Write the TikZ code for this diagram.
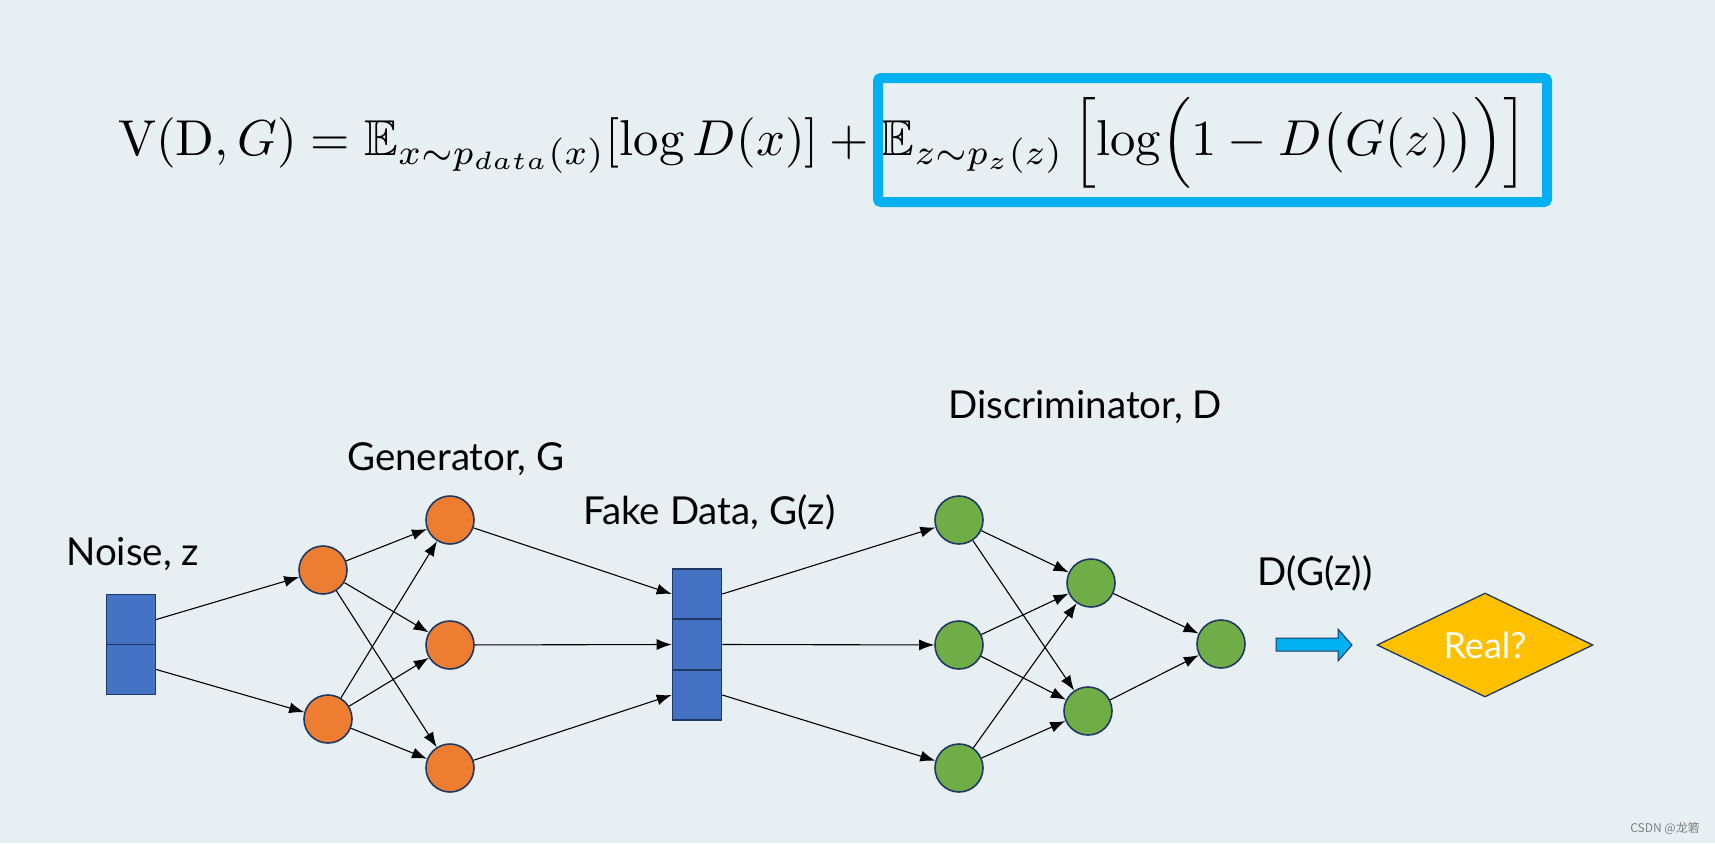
\documentclass[tikz,border=0pt]{standalone}
\usepackage{fontspec}
\usepackage{amsmath,amssymb}
\usetikzlibrary{arrows.meta,shapes.geometric}
\newfontfamily\labfont{Lato}
\newfontfamily\cjkfont{Noto Sans CJK SC}
\definecolor{bg}{RGB}{232,239,243}
\definecolor{navy}{RGB}{31,56,100}
\definecolor{orangeC}{RGB}{237,125,49}
\definecolor{greenC}{RGB}{112,173,71}
\definecolor{blueC}{RGB}{68,114,196}
\definecolor{cyanC}{RGB}{0,176,240}
\definecolor{goldC}{RGB}{255,192,0}
\begin{document}
\begin{tikzpicture}[x=1pt,y=-1pt,
  neuron/.style={circle, draw=navy, line width=1.6pt, minimum size=48pt, inner sep=0pt},
  gen/.style={neuron, fill=orangeC},
  dis/.style={neuron, fill=greenC},
  cell/.style={rectangle, draw=navy, fill=blueC, line width=1.6pt, minimum width=49pt, minimum height=50pt, inner sep=0pt},
  conn/.style={-{Latex[length=15pt,width=11pt]}, line width=1.1pt, black},
  lab/.style={font=\labfont\fontsize{38.5}{42}\selectfont, anchor=base west, inner sep=0pt, text=black}]
\fill[bg] (0,0) rectangle (1715,843);
\useasboundingbox (0,0) rectangle (1715,843);

% formula
\node[inner sep=0pt, anchor=base west] (formula) at (118,155)
 {\resizebox{1409pt}{58pt}{$\mathrm{V}(\mathrm{D},G)=\mathbb{E}_{x\sim p_{data}(x)}[\log D(x)]+\mathbb{E}_{z\sim p_z(z)}\,\Bigl[\log\Bigl(1-D\bigl(G(z)\bigr)\Bigr)\Bigr]$}};
\draw[cyanC, line width=10pt, rounded corners=3pt] (878,78) rectangle (1547,202);

% labels
\node[lab] (lnoise) at (66,565) {Noise, z};
\node[lab] (lgen) at (347,470) {Generator, G};
\node[lab] (lfake) at (583,524) {Fake Data, G(z)};
\node[lab] (ldis) at (948,418) {Discriminator, D};
\node[lab] (ldgz) at (1257,585) {D(G(z))};

% noise cells
\node[cell] (n1) at (131,619.5) {};
\node[cell] (n2) at (131,669.5) {};
% generator neurons
\node[gen] (g1) at (323,570) {};
\node[gen] (g2) at (328,719) {};
\node[gen] (h1) at (450,520) {};
\node[gen] (h2) at (450,645) {};
\node[gen] (h3) at (450,768) {};
% fake data cells
\node[cell] (f1) at (697,594) {};
\node[cell] (f2) at (697,644.5) {};
\node[cell] (f3) at (697,695) {};
% discriminator neurons
\node[dis] (d1) at (959,520) {};
\node[dis] (d2) at (959,645) {};
\node[dis] (d3) at (959,768) {};
\node[dis] (e1) at (1091,583) {};
\node[dis] (e2) at (1088,711) {};
\node[dis] (o) at (1221,644) {};

% connectors
\draw[conn] (n1.east) -- (g1);
\draw[conn] (n2.east) -- (g2);
\foreach \a in {g1,g2}{\foreach \b in {h1,h2,h3}{\draw[conn] (\a) -- (\b);}}
\draw[conn] (h1) -- (f1.west);
\draw[conn] (h2) -- (f2.west);
\draw[conn] (h3) -- (f3.west);
\draw[conn] (f1.east) -- (d1);
\draw[conn] (f2.east) -- (d2);
\draw[conn] (f3.east) -- (d3);
\foreach \a in {d1,d2,d3}{\foreach \b in {e1,e2}{\draw[conn] (\a) -- (\b);}}
\draw[conn] (e1) -- (o);
\draw[conn] (e2) -- (o);

% block arrow
\draw[fill=cyanC, draw=navy, line width=1pt] (1276,638) -- (1338,638) -- (1338,629) -- (1352,645) -- (1338,661) -- (1338,651) -- (1276,651) -- cycle;

% decision
\node[diamond, aspect=2.08, minimum width=216pt, minimum height=104pt, inner sep=0pt, fill=goldC, draw=navy, line width=1.3pt, text=white, font=\labfont\fontsize{36}{40}\selectfont] (real) at (1485,645) {Real?};

% watermark
\node[anchor=base east, inner sep=0pt, font=\cjkfont\fontsize{12}{14}\selectfont, text=gray] (wm) at (1700,832) {CSDN @龙箬};
\end{tikzpicture}
\end{document}
